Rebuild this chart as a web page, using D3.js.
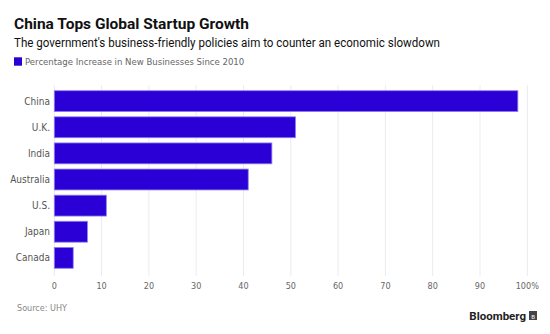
<!DOCTYPE html>
<html>
<head>
<meta charset="utf-8">
<script src="https://cdn.jsdelivr.net/npm/d3@7"></script>
<style>
  body { margin: 0; background: #fff; }
  svg { display: block; }
  .lbl { font-family: 'DejaVu Sans Condensed', 'Liberation Sans Narrow', sans-serif; }
</style>
</head>
<body>
<svg id="chart" width="550" height="334"></svg>
<script>
// data
var countries = ['China', 'U.K.', 'India', 'Australia', 'U.S.', 'Japan', 'Canada']
var increase = [98, 51, 46, 41, 11, 7, 4]
var ticks = [0, 10, 20, 30, 40, 50, 60, 70, 80, 90, 100]

var svg = d3.select('#chart')
var barColor = '#2a00d6'

var x = d3.scaleLinear().domain([0, 100]).range([54.3, 527.3])
var y = d3.scaleBand().domain(countries).range([88.1, 270.9]).paddingInner(0.2).paddingOuter(0.1)

// title block
svg.append('text')
  .attr('x', 14).attr('y', 28.5)
  .attr('font-family', 'Roboto, sans-serif')
  .attr('font-weight', 'bold')
  .attr('font-size', 15.5)
  .attr('fill', '#111')
  .text('China Tops Global Startup Growth')

svg.append('text')
  .attr('x', 14).attr('y', 47)
  .attr('font-family', 'Roboto, sans-serif')
  .attr('font-size', 12.5)
  .attr('textLength', 426)
  .attr('lengthAdjust', 'spacingAndGlyphs')
  .attr('fill', '#111')
  .text("The government's business-friendly policies aim to counter an economic slowdown")

svg.append('rect')
  .attr('x', 14).attr('y', 57.3).attr('width', 8).attr('height', 8.4)
  .attr('fill', barColor)
svg.append('text')
  .attr('class', 'lbl')
  .attr('x', 25).attr('y', 65.3)
  .attr('font-size', 9.5)
  .attr('fill', '#666')
  .text('Percentage Increase in New Businesses Since 2010')

// grid
svg.append('g')
  .selectAll('line')
  .data(ticks)
  .join('line')
  .attr('x1', (d) => x(d)).attr('x2', (d) => x(d))
  .attr('y1', 85).attr('y2', 276)
  .attr('stroke', '#ececf0')
  .attr('stroke-width', 1)

// bars
svg.append('g')
  .selectAll('rect')
  .data(countries)
  .join('rect')
  .attr('x', x(0))
  .attr('y', (d) => y(d))
  .attr('width', (d, i) => x(increase[i]) - x(0))
  .attr('height', y.bandwidth())
  .attr('fill', barColor)
  .attr('stroke', '#8f80f0')
  .attr('stroke-width', 0.8)

// category labels
svg.append('g')
  .selectAll('text')
  .data(countries)
  .join('text')
  .attr('class', 'lbl')
  .attr('x', 50)
  .attr('y', (d) => y(d) + y.bandwidth() / 2)
  .attr('dy', '0.35em')
  .attr('text-anchor', 'end')
  .attr('font-size', 10)
  .attr('fill', '#555')
  .text((d) => d)

// x tick labels
svg.append('g')
  .selectAll('text')
  .data(ticks)
  .join('text')
  .attr('class', 'lbl')
  .attr('x', (d) => x(d))
  .attr('y', 288.5)
  .attr('text-anchor', 'middle')
  .attr('font-size', 9)
  .attr('fill', '#666')
  .text((d) => d === 100 ? '100%' : d)

// footer
svg.append('text')
  .attr('class', 'lbl')
  .attr('x', 17).attr('y', 310.5)
  .attr('font-size', 9)
  .attr('fill', '#888')
  .text('Source: UHY')

svg.append('text')
  .attr('x', 526).attr('y', 320)
  .attr('text-anchor', 'end')
  .attr('font-family', 'Roboto, sans-serif')
  .attr('font-weight', 'bold')
  .attr('font-size', 11.5)
  .attr('fill', '#222')
  .text('Bloomberg')

svg.append('rect')
  .attr('x', 529).attr('y', 311).attr('width', 8).attr('height', 9)
  .attr('fill', '#444')
svg.append('text')
  .attr('x', 533).attr('y', 318.5)
  .attr('text-anchor', 'middle')
  .attr('font-family', 'Roboto, sans-serif')
  .attr('font-size', 6)
  .attr('fill', '#fff')
  .text('B')
</script>
</body>
</html>
